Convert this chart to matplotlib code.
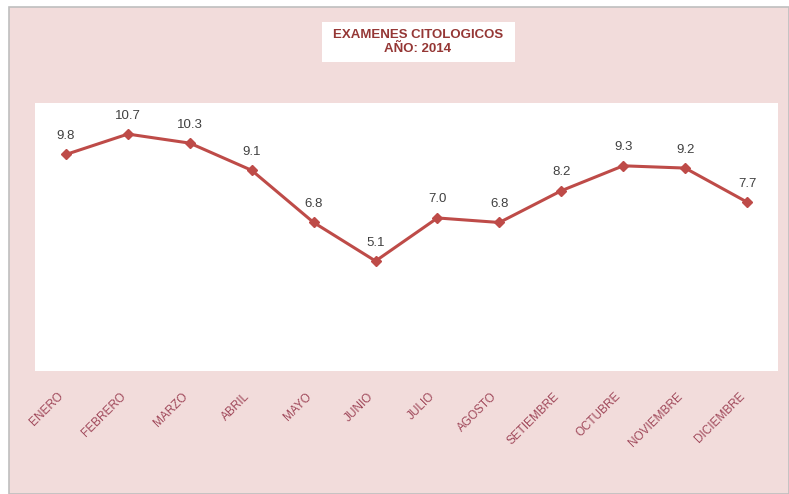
import matplotlib.pyplot as plt
from matplotlib.patches import Rectangle

meses = ['ENERO', 'FEBRERO', 'MARZO', 'ABRIL', 'MAYO', 'JUNIO', 'JULIO',
         'AGOSTO', 'SETIEMBRE', 'OCTUBRE', 'NOVIEMBRE', 'DICIEMBRE']
valores = [9.8, 10.7, 10.3, 9.1, 6.8, 5.1, 7.0, 6.8, 8.2, 9.3, 9.2, 7.7]

W, H = 789, 494
rosa = '#F2DCDB'
rojo = '#BE4B48'

fig = plt.figure(figsize=(W / 100, H / 100), dpi=100)
fig.patch.set_facecolor('white')

# fondo del grafico con borde gris
fig.patches.append(Rectangle((9 / W, 0), 1 - 9 / W, 1 - 7 / H, transform=fig.transFigure,
                             facecolor=rosa, edgecolor='#BFBFBF', linewidth=1.2, zorder=-2))

# area de trazado: x 35..778, y 103..371
ax = fig.add_axes([35 / W, 1 - 371 / H, (778 - 35) / W, (371 - 103) / H])
ax.set_zorder(2)
ax.set_facecolor('white')
for s in ax.spines.values():
    s.set_visible(False)

x = list(range(len(meses)))
ax.plot(x, valores, color=rojo, linewidth=2.2, marker='D', markersize=5.5,
        markerfacecolor=rojo, markeredgecolor=rojo, zorder=3)

for xi, v in zip(x, valores):
    ax.annotate(f'{v:.1f}', (xi, v), xytext=(0, 9), textcoords='offset points',
                ha='center', va='bottom', fontsize=9.5, color='#404040',
                family='Liberation Sans')

ax.set_xlim(-0.5, 11.5)
ax.set_ylim(0.25, 12.07)
ax.set_yticks([])
ax.set_xticks(x)
ax.set_xticklabels(meses, rotation=45, ha='right', va='top', fontsize=8.5,
                   color='#A0485A', family='Liberation Sans')
for lbl in ax.get_xticklabels():
    lbl.set_x(lbl.get_position()[0])
ax.tick_params(axis='x', length=0, pad=14)

# titulo en caja blanca
fig.patches.append(Rectangle((322 / W, 1 - 62 / H), (515 - 322) / W, 40 / H,
                             transform=fig.transFigure, facecolor='white',
                             edgecolor='none', zorder=-1))
fig.text(418 / W, 1 - 42 / H, 'EXAMENES CITOLOGICOS\nAÑO: 2014', ha='center', va='center',
         fontsize=9.5, fontweight='bold', color='#953735', family='Liberation Sans',
         linespacing=1.3, zorder=3)

fig.savefig('out.png', dpi=100, facecolor=fig.get_facecolor())
